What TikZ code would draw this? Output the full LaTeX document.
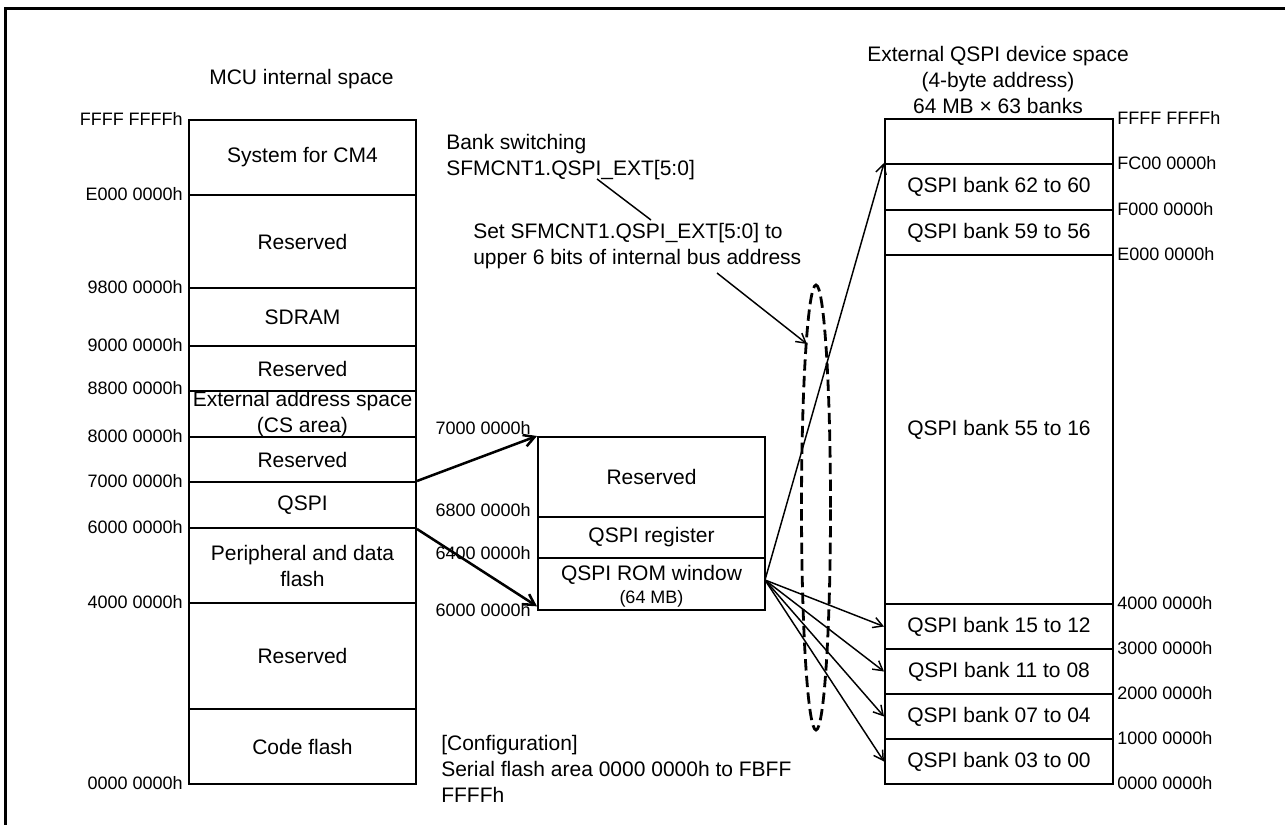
\documentclass[tikz,border=0pt]{standalone}
\usepackage{fontspec}
\setmainfont{Liberation Sans}
\usetikzlibrary{arrows.meta,shapes.geometric}
\newcommand\fmain{\fontsize{15.75pt}{19.5pt}\selectfont}
\newcommand\fsml{\fontsize{13.5pt}{16pt}\selectfont}
\begin{document}
\begin{tikzpicture}[x=0.75pt,y=-0.75pt,
  region/.style={draw, line width=1.5pt, minimum width=170.25pt, inner sep=0pt, anchor=north west, align=center, font=\fmain},
  rregion/.style={region, minimum width=171pt},
  addrl/.style={anchor=east, inner sep=0pt, font=\fsml},
  addrr/.style={anchor=west, inner sep=0pt, font=\fsml},
  title/.style={align=center, inner sep=0pt, font=\fmain},
  note/.style={align=left, anchor=west, inner sep=0pt, font=\fmain},
  thickarrow/.style={line width=1.9pt, -{Straight Barb[length=8pt,width=9pt,line width=1.9pt]}},
  thinarrow/.style={line width=1.1pt, -{Straight Barb[length=7pt,width=8pt,line width=1.1pt]}},
  thinline/.style={line width=1.1pt}
]
\useasboundingbox (0,0) rectangle (1285,825);
% frame
\draw[line width=2.25pt] (1285,8) -- (5,8) -- (5,825);

% left column
\node[title] (mcu) at (301.5,79) {MCU internal space};
\node[region, minimum height=56.25pt] (sys) at (188,119) {System for CM4};
\node[region, minimum height=69.75pt] (res1) at (188,194) {Reserved};
\node[region, minimum height=43.5pt] (sdram) at (188,287) {SDRAM};
\node[region, minimum height=33.75pt] (res2) at (188,345) {Reserved};
\node[region, minimum height=34.5pt, label={[align=center,font=\fmain,inner sep=0pt]center:External address space\\(CS area)}] (ext) at (188,390) {};
\node[region, minimum height=33.75pt] (res3) at (188,436) {Reserved};
\node[region, minimum height=34.5pt] (qspi) at (188,481) {QSPI};
\node[region, minimum height=56.25pt] (peri) at (188,527) {Peripheral and data\\flash};
\node[region, minimum height=79.5pt] (res4) at (188,602) {Reserved};
\node[region, minimum height=56.25pt] (code) at (188,708) {Code flash};

\node[addrl] (la1) at (183,119) {FFFF FFFFh};
\node[addrl] (la2) at (183,194) {E000 0000h};
\node[addrl] (la3) at (183,287) {9800 0000h};
\node[addrl] (la4) at (183,345) {9000 0000h};
\node[addrl] (la5) at (183,388) {8800 0000h};
\node[addrl] (la6) at (183,436) {8000 0000h};
\node[addrl] (la7) at (183,481) {7000 0000h};
\node[addrl] (la8) at (183,527) {6000 0000h};
\node[addrl] (la9) at (183,602) {4000 0000h};
\node[addrl] (la10) at (183,783) {0000 0000h};

% middle column
\node[region, minimum height=60pt] (mres) at (537,436) {Reserved};
\node[region, minimum height=30.75pt] (mreg) at (537,516) {QSPI register};
\node[region, minimum height=39pt, label={[align=center,inner sep=0pt,yshift=-1.5pt]center:{\fmain QSPI ROM window}\\[3.5pt]{\fsml (64 MB)}}] (rom) at (537,557) {};

\node[addrl] (ma1) at (531,428) {7000 0000h};
\node[addrl] (ma2) at (531,510) {6800 0000h};
\node[addrl] (ma3) at (531,553) {6400 0000h};
\node[addrl] (ma4) at (531,610) {6000 0000h};

% right column
\node[title] (ext title) at (998,79.5) {External QSPI device space\\(4-byte address)\\64 MB × 63 banks};
\node[rregion, minimum height=33.75pt] (btop) at (884,118) {};
\node[rregion, minimum height=34.5pt] (b62) at (884,163) {QSPI bank 62 to 60};
\node[rregion, minimum height=33.75pt] (b59) at (884,209) {QSPI bank 59 to 56};
\node[rregion, minimum height=261.75pt] (b55) at (884,254) {QSPI bank 55 to 16};
\node[rregion, minimum height=33.75pt] (b15) at (884,603) {QSPI bank 15 to 12};
\node[rregion, minimum height=33.75pt] (b11) at (884,648) {QSPI bank 11 to 08};
\node[rregion, minimum height=33.75pt] (b07) at (884,693) {QSPI bank 07 to 04};
\node[rregion, minimum height=33.75pt] (b03) at (884,738) {QSPI bank 03 to 00};

\node[addrr] (ra1) at (1117,118) {FFFF FFFFh};
\node[addrr] (ra2) at (1117,163) {FC00 0000h};
\node[addrr] (ra3) at (1117,209) {F000 0000h};
\node[addrr] (ra4) at (1117,254) {E000 0000h};
\node[addrr] (ra5) at (1117,603) {4000 0000h};
\node[addrr] (ra6) at (1117,648) {3000 0000h};
\node[addrr] (ra7) at (1117,693) {2000 0000h};
\node[addrr] (ra8) at (1117,738) {1000 0000h};
\node[addrr] (ra9) at (1117,783) {0000 0000h};

% notes
\node[note] (bank) at (446,157) {Bank switching\\SFMCNT1.QSPI\_EXT[5:0]};
\node[note] (setn) at (473,246.5) {Set SFMCNT1.QSPI\_EXT[5:0] to\\upper 6 bits of internal bus address};
\node[note] (conf) at (441,768.5) {[Configuration]\\Serial flash area 0000 0000h to FBFF\\FFFFh};

% dashed ellipse
\node[ellipse, draw, dashed, dash pattern=on 8.5pt off 4pt, line width=2.1pt, minimum width=21.75pt, minimum height=333.75pt, inner sep=0pt] (ell) at (816,507.5) {};

% connectors
\coordinate (c1) at (597,179);
\coordinate (c2) at (651,220);
\draw[thinline] (c1) -- (c2);
\coordinate (c3) at (717,273);
\coordinate (c4) at (807,344);
\draw[thinarrow] (c3) -- (c4);

\draw[thickarrow] (qspi.north east) -- (mres.north west);
\draw[thickarrow] (qspi.south east) -- ([yshift=3.5pt]rom.south west);

\coordinate (src) at (765,580);
\draw[thinarrow] (src) -- (b62.north west);
\draw[thinarrow] (src) -- (b15.west);
\draw[thinarrow] (src) -- (b11.west);
\draw[thinarrow] (src) -- (b07.west);
\draw[thinarrow] (src) -- (b03.west);
\end{tikzpicture}
\end{document}
